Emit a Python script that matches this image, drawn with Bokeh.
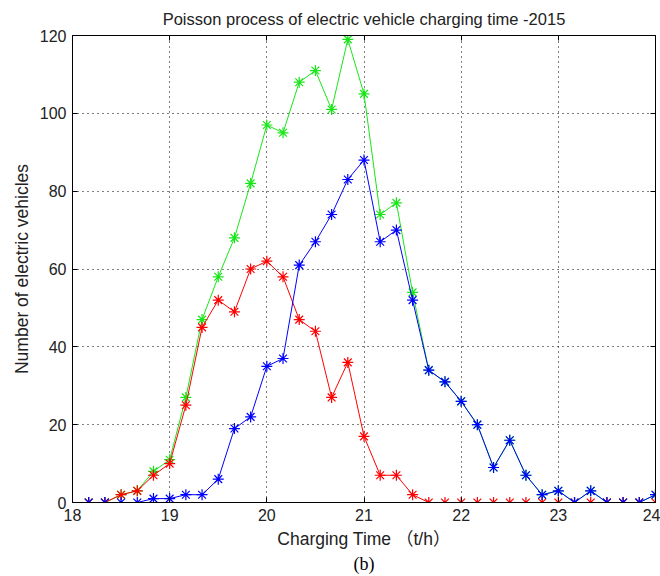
from bokeh.plotting import figure
from bokeh.models import LinearAxis, Title, Range1d, FixedTicker, CustomJSTickFormatter
from bokeh.embed import file_html
from bokeh.resources import INLINE

# time of day in hours (10-minute steps)
times = [18 + k / 6 for k in range(1, 37)]

total_ev = [0, 0, 2, 3, 8, 11, 27, 47, 58, 68, 82, 97, 95, 108, 111, 101, 119, 105,
            74, 77, 54, 34, 31, 26, 20, 9, 16, 7, 2, 3, 0, 3, 0, 0, 0, 2]
red_ev = [0, 0, 2, 3, 7, 10, 25, 45, 52, 49, 60, 62, 58, 47, 44, 27, 36, 17,
          7, 7, 2, 0, 0, 0, 0, 0, 0, 0, 0, 0, 0, 0, 0, 0, 0, 0]
blue_ev = [0, 0, 0, 0, 1, 1, 2, 2, 6, 19, 22, 35, 37, 61, 67, 74, 83, 88,
           67, 70, 52, 34, 31, 26, 20, 9, 16, 7, 2, 3, 0, 3, 0, 0, 0, 2]

x_ticks = [18, 19, 20, 21, 22, 23, 24]
y_ticks = [0, 20, 40, 60, 80, 100, 120]

FONT = "Liberation Sans, Arial, Noto Sans CJK SC"

p = figure(width=660, height=576, output_backend="svg", toolbar_location=None,
           x_range=Range1d(18, 24), y_range=Range1d(0, 120),
           min_border_left=72, min_border_right=5, min_border_top=35,
           min_border_bottom=74, background_fill_color="white",
           border_fill_color="white")

p.title.text = "Poisson process of electric vehicle charging time -2015"
p.title.align = "center"
p.title.text_font = FONT
p.title.text_font_size = "16.5px"
p.title.text_font_style = "normal"
p.title.text_color = "#222222"
p.title.standoff = 15

p.outline_line_color = "black"
p.outline_line_width = 1

for ax in (p.xaxis[0], p.yaxis[0]):
    ax.major_tick_in = 5
    ax.major_tick_out = 0
    ax.minor_tick_in = 0
    ax.minor_tick_out = 0
    ax.major_label_text_font = FONT
    ax.major_label_text_font_size = "16px"
    ax.major_label_text_color = "#222222"
    ax.axis_label_text_font = FONT
    ax.axis_label_text_font_size = "17.5px"
    ax.axis_label_text_font_style = "normal"
    ax.axis_label_text_color = "#222222"
    ax.axis_line_color = "black"
    ax.major_tick_line_color = "black"

p.xaxis[0].ticker = FixedTicker(ticks=x_ticks)
p.yaxis[0].ticker = FixedTicker(ticks=y_ticks)
p.xaxis[0].axis_label = "Charging Time （t/h）"
p.yaxis[0].axis_label = "Number of electric vehicles"
p.xaxis[0].major_label_standoff = 6
p.yaxis[0].major_label_standoff = 6
p.xaxis[0].axis_label_standoff = 5
p.yaxis[0].axis_label_standoff = 5

p.xgrid.ticker = FixedTicker(ticks=x_ticks)
p.ygrid.ticker = FixedTicker(ticks=y_ticks)
for g in (p.xgrid[0], p.ygrid[0]):
    g.grid_line_color = "black"
    g.grid_line_dash = "1 4"
    g.grid_line_width = 1

for loc, tk in (("right", y_ticks), ("above", x_ticks)):
    ax = LinearAxis(ticker=FixedTicker(ticks=tk),
                    formatter=CustomJSTickFormatter(code="return ''"))
    ax.major_tick_in = 5
    ax.major_tick_out = 0
    ax.minor_tick_in = 0
    ax.minor_tick_out = 0
    ax.major_label_standoff = 0
    ax.axis_line_color = "black"
    p.add_layout(ax, loc)

cap = Title(text="(b)", align="center", text_font="Liberation Serif",
            text_font_size="18px", text_font_style="normal", text_color="black",
            standoff=0)
p.add_layout(cap, "below")

series = [(total_ev, "#19e619"), (red_ev, "#ff0000"), (blue_ev, "#0000ff")]
for vals, col in series:
    p.line(times, vals, line_color=col, line_width=1)
    p.scatter(times, vals, marker="asterisk", size=11, line_color=col, line_width=1.2)

open("out.html", "w").write(file_html(p, INLINE))
